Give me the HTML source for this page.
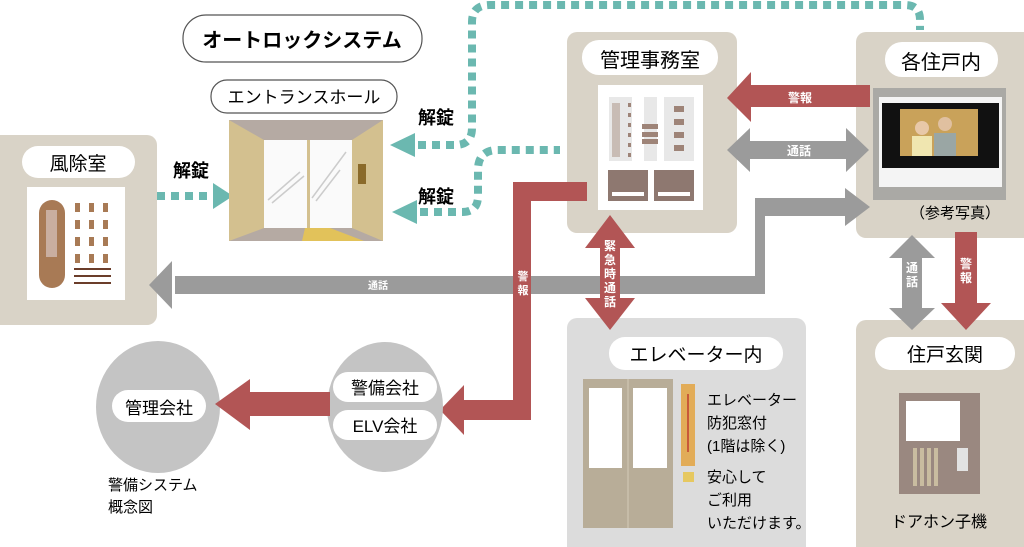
<!DOCTYPE html>
<html><head><meta charset="utf-8"><style>
html,body{margin:0;padding:0;background:#fff;width:1024px;height:547px;overflow:hidden}
svg text{font-family:"Liberation Sans","Noto Sans CJK JP",sans-serif}
</style></head><body>
<svg width="1024" height="547" viewBox="0 0 1024 547" xmlns="http://www.w3.org/2000/svg">
<rect x="-10" y="135" width="167" height="190" rx="10" fill="#d9d3c7"/>
<rect x="567" y="32" width="170" height="201" rx="10" fill="#d9d3c7"/>
<rect x="856" y="32" width="180" height="206" rx="10" fill="#d9d3c7"/>
<rect x="567" y="318" width="239" height="240" rx="10" fill="#dcdcdc"/>
<rect x="856" y="320" width="180" height="240" rx="10" fill="#d9d3c7"/>

<g fill="none" stroke="#6bb8b0" stroke-width="8" stroke-dasharray="8 6">
<path d="M418 145 H455 Q472 145 472 128 V22 Q472 5 490 5 H905 Q920 5 920 20 V30"/>
<path d="M420 212 H462 Q478 212 478 196 V170 Q478 150 498 150 H560"/>
<path d="M157 196 H215"/>
</g>
<polygon points="390,145 415,133 415,157" fill="#6bb8b0"/>
<polygon points="392,212 417,200 417,224" fill="#6bb8b0"/>
<polygon points="233,196 213,183 213,209" fill="#6bb8b0"/>

<path d="M175 276 H755 V198 H845 V216 H765 V294 H175 Z" fill="#9b9b9b"/>
<polygon points="149,285 172,261 172,309" fill="#9b9b9b"/>
<polygon points="870,207 845,188 845,226" fill="#9b9b9b"/>
<text x="378" y="289" font-size="10" fill="#fff" font-weight="bold" text-anchor="middle">通話</text>

<polygon points="727,150 750,128 750,141 846,141 846,128 869,150 846,172 846,159 750,159 750,172" fill="#9b9b9b"/>
<text x="799" y="155" font-size="12" fill="#fff" font-weight="bold" text-anchor="middle">通話</text>
<polygon points="727,98 751,72 751,85 870,85 870,107 751,107 751,122" fill="#b25555"/>
<text x="800" y="102" font-size="12" fill="#fff" font-weight="bold" text-anchor="middle">警報</text>

<path d="M587 182 V201 H531 V420 H462 V400 H513 V182 Z" fill="#b25555"/>
<polygon points="440,410 464,385 464,435" fill="#b25555"/>
<text x="523" y="280" font-size="11" fill="#fff" font-weight="bold" text-anchor="middle">警</text>
<text x="523" y="294" font-size="11" fill="#fff" font-weight="bold" text-anchor="middle">報</text>
<polygon points="610,215 635,248 620,248 620,298 635,298 610,330 585,298 600,298 600,248 585,248" fill="#b25555"/>
<g font-size="12" fill="#fff" font-weight="bold" text-anchor="middle">
<text x="610" y="250">緊</text><text x="610" y="264">急</text><text x="610" y="278">時</text><text x="610" y="292">通</text><text x="610" y="306">話</text></g>

<polygon points="912,235 935,258 922,258 922,308 935,308 912,330 889,308 902,308 902,258 889,258" fill="#9b9b9b"/>
<g font-size="12" fill="#fff" font-weight="bold" text-anchor="middle"><text x="912" y="272">通</text><text x="912" y="286">話</text></g>
<rect x="955" y="232" width="22" height="72" fill="#b25555"/>
<polygon points="941,303 991,303 966,330" fill="#b25555"/>
<g font-size="12" fill="#fff" font-weight="bold" text-anchor="middle"><text x="966" y="268">警</text><text x="966" y="282">報</text></g>

<ellipse cx="158" cy="407" rx="62" ry="66" fill="#c4c4c4"/>
<ellipse cx="385" cy="407" rx="58" ry="65" fill="#c4c4c4"/>
<rect x="240" y="392" width="90" height="24" fill="#b25555"/>
<polygon points="215,404 250,379 250,430" fill="#b25555"/>
<rect x="112" y="390" width="94" height="32" rx="16" fill="#fff"/>
<text x="159" y="414" font-size="17" text-anchor="middle">管理会社</text>
<rect x="333" y="372" width="104" height="30" rx="15" fill="#fff"/>
<text x="385" y="394" font-size="17" text-anchor="middle">警備会社</text>
<rect x="333" y="410" width="104" height="30" rx="15" fill="#fff"/>
<text x="385" y="432" font-size="17" text-anchor="middle">ELV会社</text>
<text x="108" y="490" font-size="15">警備システム</text>
<text x="108" y="512" font-size="15">概念図</text>

<rect x="183" y="15" width="239" height="47" rx="23" fill="#fff" stroke="#555" stroke-width="1.2"/>
<text x="302" y="47" font-size="20" font-weight="bold" text-anchor="middle">オートロックシステム</text>
<rect x="211" y="80" width="186" height="33" rx="16" fill="#fff" stroke="#555" stroke-width="1.2"/>
<text x="304" y="103" font-size="17" text-anchor="middle">エントランスホール</text>
<text x="436" y="124" font-size="18" font-weight="bold" text-anchor="middle">解錠</text>
<text x="436" y="203" font-size="18" font-weight="bold" text-anchor="middle">解錠</text>
<text x="191" y="177" font-size="18" font-weight="bold" text-anchor="middle">解錠</text>

<rect x="22" y="146" width="113" height="32" rx="16" fill="#fff"/>
<text x="78" y="170" font-size="19" text-anchor="middle">風除室</text>
<rect x="27" y="187" width="98" height="113" fill="#fff"/>
<rect x="39" y="200" width="26" height="88" rx="13" fill="#a87a55"/>
<rect x="46" y="210" width="11" height="47" fill="#c9aea0"/>
<g fill="#a87a55">
<rect x="75" y="203" width="5" height="9"/><rect x="89" y="203" width="5" height="9"/><rect x="103" y="203" width="5" height="9"/>
<rect x="75" y="220" width="5" height="9"/><rect x="89" y="220" width="5" height="9"/><rect x="103" y="220" width="5" height="9"/>
<rect x="75" y="237" width="5" height="9"/><rect x="89" y="237" width="5" height="9"/><rect x="103" y="237" width="5" height="9"/>
<rect x="75" y="254" width="5" height="9"/><rect x="89" y="254" width="5" height="9"/><rect x="103" y="254" width="5" height="9"/>
</g>
<g fill="#6b3d2a"><rect x="74" y="268" width="37" height="2"/><rect x="74" y="275" width="37" height="2"/><rect x="74" y="282" width="37" height="2"/></g>

<rect x="229" y="120" width="154" height="121" fill="#d3c08f"/>
<polygon points="229,120 383,120 352,140 264,140" fill="#b5aaa3"/>
<polygon points="229,241 383,241 352,228 264,228" fill="#b5aaa3"/>
<rect x="264" y="140" width="88" height="88" fill="#fafafa"/>
<rect x="307" y="140" width="3" height="88" fill="#d3c08f"/>
<polygon points="305,228 330,228 364,241 302,241" fill="#e2c25a"/>
<rect x="358" y="164" width="8" height="20" fill="#8a6a2a"/>
<g stroke="#ccc" stroke-width="1.5"><line x1="268" y1="200" x2="300" y2="172"/><line x1="272" y1="203" x2="304" y2="176"/><line x1="312" y1="198" x2="346" y2="152"/><line x1="316" y1="201" x2="340" y2="170"/></g>

<rect x="582" y="40" width="136" height="35" rx="17" fill="#fff"/>
<text x="650" y="67" font-size="20" text-anchor="middle">管理事務室</text>
<rect x="598" y="85" width="105" height="125" fill="#fff"/>
<rect x="609" y="97" width="23" height="64" fill="#e8e8e8"/><rect x="612" y="103" width="8" height="54" fill="#c8bcb5"/>
<g fill="#9e8478"><rect x="628" y="103" width="3" height="4"/><rect x="628" y="113" width="3" height="4"/><rect x="628" y="123" width="3" height="4"/><rect x="628" y="133" width="3" height="4"/><rect x="628" y="143" width="3" height="4"/><rect x="628" y="153" width="3" height="4"/></g>
<rect x="644" y="97" width="13" height="64" fill="#e8e8e8"/>
<g fill="#9e8478"><rect x="642" y="124" width="16" height="5"/><rect x="642" y="132" width="16" height="5"/><rect x="642" y="139" width="16" height="5"/></g>
<rect x="664" y="97" width="30" height="64" fill="#e8e8e8"/>
<g fill="#9e8478"><rect x="674" y="106" width="10" height="6"/><rect x="674" y="119" width="10" height="6"/><rect x="674" y="132" width="10" height="6"/><rect x="674" y="145" width="10" height="6"/></g>
<rect x="608" y="170" width="40" height="31" fill="#8e7870"/><rect x="612" y="192" width="32" height="4" fill="#fff"/>
<rect x="654" y="170" width="40" height="31" fill="#8e7870"/><rect x="658" y="192" width="32" height="4" fill="#fff"/>

<rect x="885" y="42" width="113" height="35" rx="17" fill="#fff"/>
<text x="941" y="69" font-size="20" text-anchor="middle">各住戸内</text>
<rect x="873" y="88" width="133" height="112" fill="#aaa9a5"/>
<rect x="879" y="97" width="123" height="90" fill="#f4f4f4"/>
<rect x="882" y="103" width="117" height="65" fill="#111"/>
<rect x="900" y="109" width="78" height="47" fill="#c9a25a"/>
<circle cx="922" cy="128" r="7" fill="#e8c8a8"/><rect x="912" y="136" width="20" height="20" fill="#f0e6b0"/>
<circle cx="945" cy="124" r="7" fill="#e0c0a0"/><rect x="934" y="133" width="22" height="23" fill="#9aa6a4"/>
<text x="955" y="218" font-size="15" text-anchor="middle">（参考写真）</text>

<rect x="609" y="337" width="174" height="33" rx="16" fill="#fff"/>
<text x="696" y="361" font-size="19" text-anchor="middle">エレベーター内</text>
<rect x="583" y="379" width="90" height="149" fill="#b8ad98"/>
<rect x="627" y="379" width="2" height="149" fill="#c6bca8"/>
<rect x="589" y="388" width="33" height="80" fill="#fff"/><rect x="633" y="388" width="34" height="80" fill="#fff"/>
<rect x="681" y="384" width="14" height="82" fill="#e2ac58"/><rect x="687" y="394" width="2" height="58" fill="#c85a3a"/>
<rect x="683" y="472" width="11" height="10" fill="#e6c860"/>
<g font-size="15"><text x="707" y="405">エレベーター</text><text x="707" y="428">防犯窓付</text><text x="707" y="451">(1階は除く)</text><text x="707" y="482">安心して</text><text x="707" y="505">ご利用</text><text x="707" y="528">いただけます。</text></g>

<rect x="875" y="337" width="140" height="33" rx="16" fill="#fff"/>
<text x="945" y="361" font-size="19" text-anchor="middle">住戸玄関</text>
<rect x="899" y="393" width="81" height="101" fill="#9a8880"/>
<rect x="906" y="401" width="54" height="40" fill="#fff"/>
<g fill="#c9bca0"><rect x="913" y="448" width="4" height="38"/><rect x="920" y="448" width="4" height="38"/><rect x="927" y="448" width="4" height="38"/><rect x="934" y="448" width="4" height="38"/></g>
<rect x="957" y="448" width="11" height="23" fill="#e2e2e2"/>
<text x="939" y="527" font-size="16" text-anchor="middle">ドアホン子機</text>
</svg>
</body></html>
